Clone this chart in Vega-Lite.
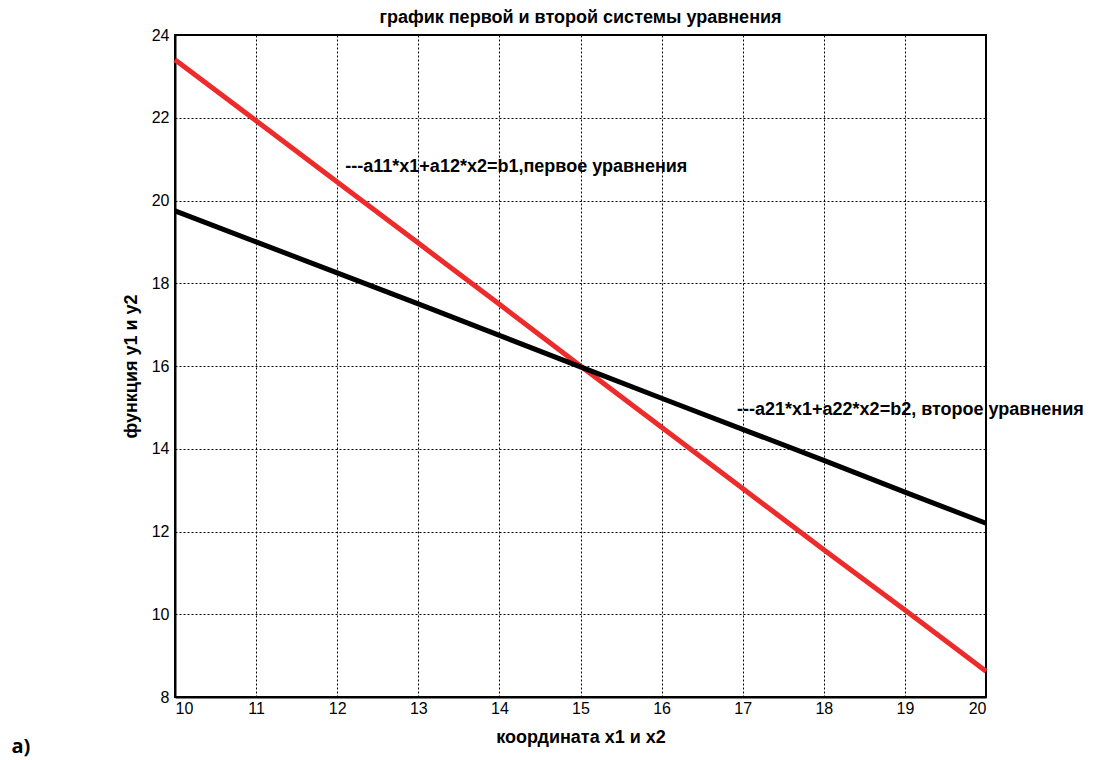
{
  "$schema": "https://vega.github.io/schema/vega-lite/v6.json",
  "width": 811,
  "height": 662,
  "autosize": {"type": "none"},
  "padding": {"left": 175, "top": 35, "right": 107, "bottom": 63},
  "background": "white",
  "title": {
    "text": "график первой и второй системы уравнения",
    "fontSize": 18,
    "font": "Liberation Sans",
    "fontWeight": "bold",
    "anchor": "middle",
    "offset": 0,
    "color": "black"
  },
  "config": {
    "view": {"stroke": "black", "strokeWidth": 2},
    "axis": {
      "domainColor": "black",
      "domainWidth": 2,
      "gridColor": "black",
      "gridDash": [2, 2],
      "gridWidth": 1,
      "gridOpacity": 1,
      "tickSize": 0,
      "labelFont": "Liberation Sans",
      "labelFontSize": 16,
      "labelColor": "black",
      "titleFont": "Liberation Sans",
      "titleFontSize": 18,
      "titleFontWeight": "bold",
      "titleColor": "black"
    }
  },
  "datasets": {
    "lines": [
      {"x": 10, "y": 23.4, "series": "first"},
      {"x": 11, "y": 21.93, "series": "first"},
      {"x": 12, "y": 20.45, "series": "first"},
      {"x": 13, "y": 18.97, "series": "first"},
      {"x": 14, "y": 17.49, "series": "first"},
      {"x": 15, "y": 16.0, "series": "first"},
      {"x": 16, "y": 14.52, "series": "first"},
      {"x": 17, "y": 13.04, "series": "first"},
      {"x": 18, "y": 11.56, "series": "first"},
      {"x": 19, "y": 10.1, "series": "first"},
      {"x": 20, "y": 8.62, "series": "first"},
      {"x": 10, "y": 19.75, "series": "second"},
      {"x": 11, "y": 19.0, "series": "second"},
      {"x": 12, "y": 18.25, "series": "second"},
      {"x": 13, "y": 17.5, "series": "second"},
      {"x": 14, "y": 16.74, "series": "second"},
      {"x": 15, "y": 15.98, "series": "second"},
      {"x": 16, "y": 15.22, "series": "second"},
      {"x": 17, "y": 14.47, "series": "second"},
      {"x": 18, "y": 13.72, "series": "second"},
      {"x": 19, "y": 12.95, "series": "second"},
      {"x": 20, "y": 12.2, "series": "second"}
    ],
    "labels": [
      {"x": 12.1, "y": 20.8, "label": "---a11*x1+a12*x2=b1,первое уравнения"},
      {"x": 16.93, "y": 14.94, "label": "---a21*x1+a22*x2=b2, второе уравнения"}
    ],
    "panel": [
      {"x": 8.1, "y": 6.8, "label": "a)"}
    ]
  },
  "layer": [
    {
      "data": {"name": "lines"},
      "mark": {"type": "line", "strokeWidth": 5, "strokeJoin": "round"},
      "encoding": {
        "x": {
          "field": "x", "type": "quantitative",
          "scale": {"domain": [10, 20], "nice": false, "zero": false},
          "axis": {"values": [10, 11, 12, 13, 14, 15, 16, 17, 18, 19, 20], "format": "d", "title": "координата x1 и x2", "labelPadding": 3, "titlePadding": 12}
        },
        "y": {
          "field": "y", "type": "quantitative",
          "scale": {"domain": [8, 24], "nice": false, "zero": false},
          "axis": {"values": [8, 10, 12, 14, 16, 18, 20, 22, 24], "format": "d", "title": "функция y1 и y2", "labelPadding": 6, "titlePadding": 11}
        },
        "color": {
          "field": "series", "type": "nominal",
          "scale": {"domain": ["first", "second"], "range": ["#ee2b2b", "#000000"]},
          "legend": null
        }
      }
    },
    {
      "data": {"name": "labels"},
      "mark": {"type": "text", "align": "left", "baseline": "middle", "font": "Liberation Sans", "fontWeight": "bold", "fontSize": 18, "color": "black"},
      "encoding": {
        "x": {"field": "x", "type": "quantitative"},
        "y": {"field": "y", "type": "quantitative"},
        "text": {"field": "label"}
      }
    },
    {
      "data": {"name": "panel"},
      "mark": {"type": "text", "align": "center", "baseline": "middle", "font": "Open Sans", "fontWeight": "bold", "fontSize": 20, "color": "black"},
      "encoding": {
        "x": {"field": "x", "type": "quantitative"},
        "y": {"field": "y", "type": "quantitative"},
        "text": {"field": "label"}
      }
    }
  ]
}
